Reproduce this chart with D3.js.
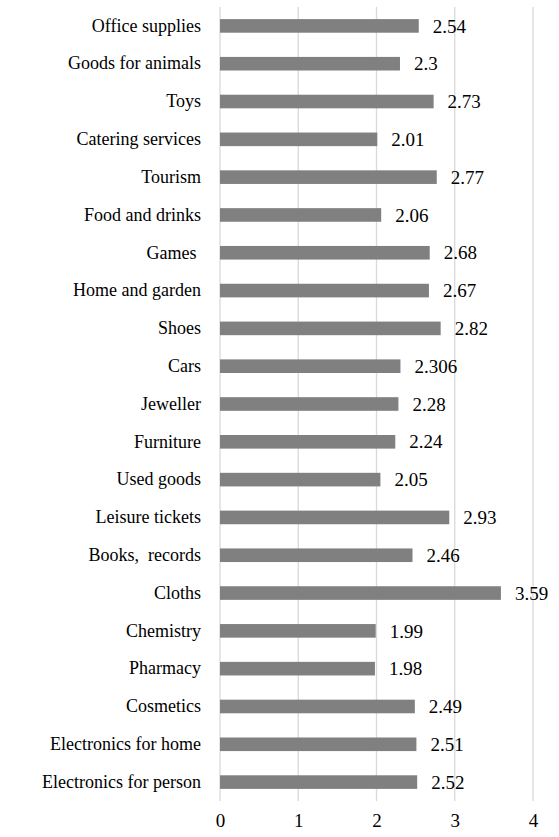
<!DOCTYPE html>
<html>
<head>
<meta charset="utf-8">
<script src="https://cdn.jsdelivr.net/npm/d3@7"></script>
</head>
<body style="margin:0; background:#fff; font-family:'Liberation Serif'">
<svg id="chart" width="559" height="837" style="font-family:'Liberation Serif'"></svg>
<script>
// Data (top to bottom as shown)
const categories = ["Office supplies", "Goods for animals", "Toys", "Catering services", "Tourism",
    "Food and drinks", "Games ", "Home and garden", "Shoes", "Cars", "Jeweller", "Furniture",
    "Used goods", "Leisure tickets", "Books,  records", "Cloths", "Chemistry", "Pharmacy",
    "Cosmetics", "Electronics for home", "Electronics for person"];
const values = [2.54, 2.3, 2.73, 2.01, 2.77, 2.06, 2.68, 2.67, 2.82, 2.306, 2.28, 2.24,
    2.05, 2.93, 2.46, 3.59, 1.99, 1.98, 2.49, 2.51, 2.52];
const valueLabels = ["2.54", "2.3", "2.73", "2.01", "2.77", "2.06", "2.68", "2.67", "2.82", "2.306",
    "2.28", "2.24", "2.05", "2.93", "2.46", "3.59", "1.99", "1.98", "2.49", "2.51", "2.52"];
const xTicks = [0, 1, 2, 3, 4];

const data = categories.map((c, i) => ({cat: c, value: values[i], label: valueLabels[i]}));

const totalWidth = 559, totalHeight = 837;
const margin = {top: 7, right: 26, bottom: 36, left: 220};
const width = totalWidth - margin.left - margin.right;
const height = totalHeight - margin.top - margin.bottom;

const svg = d3.select("#chart")
    .append("g")
    .attr("transform", `translate(${margin.left},${margin.top})`);

const xScale = d3.scaleLinear().domain([0, 4]).range([0, width]);
const yScale = d3.scaleBand()
    .domain(d3.range(categories.length))
    .range([0, height])
    .paddingInner(0.64)
    .paddingOuter(0.32);

// Gridlines
svg.selectAll(".grid")
    .data(xTicks)
    .enter()
    .append("line")
    .attr("class", "grid")
    .attr("x1", d => xScale(d))
    .attr("x2", d => xScale(d))
    .attr("y1", 0)
    .attr("y2", height)
    .attr("stroke", "#d9d9d9")
    .attr("stroke-width", 1.3);

// X axis tick labels
const xAxis = svg.append("g")
    .attr("transform", `translate(0,${height})`)
    .call(d3.axisBottom(xScale).tickValues(xTicks).tickFormat(d3.format("d")).tickSize(0).tickPadding(13));
xAxis.select(".domain").remove();
xAxis.attr("font-family", null);
xAxis.selectAll("text")
    .attr("fill", "#000")
    .style("font-size", "19px");

// Y axis category labels
const yAxis = svg.append("g")
    .call(d3.axisLeft(yScale).tickFormat(i => categories[i]).tickSize(0).tickPadding(19));
yAxis.select(".domain").remove();
yAxis.attr("font-family", null);
yAxis.selectAll("text")
    .attr("fill", "#000")
    .style("font-size", "18px")
    .style("white-space", "pre");

// Bars
svg.selectAll(".bar")
    .data(data)
    .enter()
    .append("rect")
    .attr("class", "bar")
    .attr("x", xScale(0))
    .attr("y", (d, i) => yScale(i))
    .attr("width", d => xScale(d.value) - xScale(0))
    .attr("height", yScale.bandwidth())
    .attr("fill", "#808080");

// Value labels
svg.selectAll(".value")
    .data(data)
    .enter()
    .append("text")
    .attr("class", "value")
    .attr("x", d => xScale(d.value) + 14)
    .attr("y", (d, i) => yScale(i) + yScale.bandwidth() / 2)
    .attr("dy", ".35em")
    .attr("fill", "#000")
    .style("font-size", "19px")
    .text(d => d.label);
</script>
</body>
</html>
